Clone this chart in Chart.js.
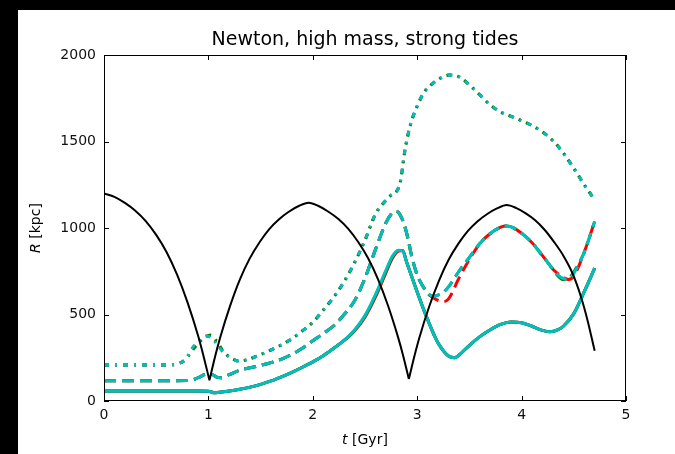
<!DOCTYPE html>
<html>
<head>
<meta charset="utf-8">
<script src="https://cdn.jsdelivr.net/npm/chart.js@4"></script>
<style>
  html, body { margin: 0; padding: 0; background: #000; }
  #wrap { position: absolute; left: 18px; top: 10px; width: 657px; height: 444px; background: #fff; }
</style>
</head>
<body>
<div id="wrap"><canvas id="chart"></canvas></div>
<script>
// tick labels
const xTicks = [0, 1, 2, 3, 4, 5];
const yTicks = [0, 500, 1000, 1500, 2000];

// black orbit (solid)
const tBlack = [0, 0.1, 0.2, 0.3, 0.4, 0.5, 0.6, 0.7, 0.8, 0.9, 0.95, 1.01, 1.066, 1.113, 1.207, 1.3, 1.395, 1.49, 1.583, 1.677, 1.77, 1.865, 1.96, 2.055, 2.15, 2.245, 2.34, 2.435, 2.53, 2.625, 2.72, 2.815, 2.863, 2.92, 2.976, 3.022, 3.115, 3.208, 3.3, 3.393, 3.486, 3.579, 3.671, 3.764, 3.857, 3.95, 4.04, 4.13, 4.22, 4.31, 4.4, 4.49, 4.57, 4.63, 4.7];
const rBlack = [1200, 1180, 1145, 1100, 1040, 960, 860, 730, 570, 380, 268, 120, 262, 367, 548, 700, 823, 918, 994, 1051, 1094, 1127, 1146, 1127, 1094, 1052, 995, 919, 825, 703, 552, 372, 268, 127, 266, 369, 546, 695, 815, 908, 983, 1039, 1081, 1113, 1133, 1115, 1085, 1045, 990, 920, 840, 735, 600, 470, 290];

// solid lines
const tSolid = [0, 0.3, 0.6, 0.9, 1.0, 1.06, 1.1, 1.2, 1.3, 1.4, 1.5, 1.6, 1.7, 1.8, 1.9, 2.0, 2.1, 2.2, 2.3, 2.4, 2.5, 2.6, 2.7, 2.76, 2.82, 2.86, 2.9, 3.0, 3.1, 3.2, 3.3, 3.36, 3.4, 3.5, 3.6, 3.7, 3.8, 3.9, 4.0, 4.1, 4.2, 4.27, 4.35, 4.4, 4.5, 4.6, 4.7];
const solidRed   = [58, 58, 58, 58, 57, 47, 50, 58, 68, 80, 96, 116, 140, 166, 195, 226, 262, 305, 350, 405, 485, 600, 740, 822, 866, 870, 800, 630, 470, 335, 260, 250, 265, 322, 372, 412, 443, 457, 452, 432, 408, 400, 412, 432, 505, 632, 768];
const solidGreen = [58, 58, 58, 58, 57, 47, 50, 58, 68, 80, 96, 116, 140, 166, 195, 226, 262, 305, 350, 408, 490, 608, 748, 828, 870, 870, 800, 630, 470, 335, 260, 250, 265, 322, 372, 412, 443, 457, 452, 432, 408, 400, 412, 432, 505, 632, 768];
const solidCyan  = [58, 58, 58, 58, 57, 47, 50, 58, 68, 80, 96, 116, 140, 166, 195, 226, 262, 305, 350, 410, 495, 615, 755, 835, 872, 868, 800, 630, 470, 335, 260, 250, 265, 322, 372, 412, 443, 457, 452, 432, 408, 400, 412, 432, 505, 632, 768];

// dashed lines
const tDash = [0, 0.4, 0.8, 0.86, 0.92, 0.98, 1.03, 1.08, 1.12, 1.2, 1.3, 1.4, 1.5, 1.6, 1.7, 1.8, 1.9, 2.0, 2.1, 2.2, 2.3, 2.4, 2.5, 2.6, 2.7, 2.75, 2.8, 2.85, 2.9, 2.95, 3.0, 3.05, 3.1, 3.15, 3.2, 3.25, 3.3, 3.4, 3.5, 3.6, 3.7, 3.8, 3.85, 3.9, 4.0, 4.1, 4.2, 4.3, 4.35, 4.4, 4.45, 4.5, 4.6, 4.7];
const dashRed   = [117, 117, 118, 124, 140, 156, 154, 138, 134, 152, 178, 192, 206, 222, 242, 270, 305, 348, 390, 435, 500, 580, 710, 875, 1030, 1080, 1097, 1060, 968, 830, 728, 668, 622, 598, 582, 574, 590, 710, 818, 910, 968, 1005, 1012, 1006, 970, 915, 840, 762, 735, 714, 702, 722, 860, 1038];
const dashGreen = [117, 117, 118, 124, 140, 156, 154, 138, 134, 152, 178, 192, 206, 222, 242, 270, 305, 348, 390, 435, 500, 580, 710, 875, 1030, 1080, 1097, 1060, 968, 830, 728, 668, 625, 605, 612, 628, 660, 750, 830, 910, 968, 1005, 1012, 1006, 970, 915, 840, 762, 722, 702, 708, 745, 860, 1038];
const dashCyan  = [117, 117, 118, 124, 140, 156, 154, 138, 134, 152, 178, 192, 206, 222, 242, 270, 305, 348, 390, 435, 500, 580, 710, 875, 1030, 1080, 1097, 1060, 968, 830, 728, 668, 625, 605, 612, 628, 660, 750, 830, 910, 968, 1005, 1012, 1006, 970, 915, 840, 762, 728, 708, 704, 738, 860, 1038];

// dash-dot lines
const tDot = [0, 0.3, 0.6, 0.7, 0.78, 0.85, 0.92, 0.98, 1.02, 1.08, 1.14, 1.2, 1.3, 1.4, 1.5, 1.6, 1.7, 1.8, 1.9, 2.0, 2.1, 2.2, 2.3, 2.4, 2.5, 2.6, 2.7, 2.75, 2.8, 2.84, 2.88, 2.93, 3.0, 3.07, 3.15, 3.25, 3.31, 3.41, 3.5, 3.6, 3.7, 3.8, 3.9, 4.0, 4.1, 4.2, 4.3, 4.4, 4.5, 4.6, 4.7];
const dotRed   = [208, 208, 208, 214, 240, 306, 352, 376, 372, 334, 284, 255, 230, 245, 268, 295, 325, 360, 405, 455, 525, 600, 690, 800, 930, 1080, 1160, 1190, 1210, 1270, 1440, 1585, 1705, 1788, 1836, 1875, 1884, 1871, 1827, 1769, 1711, 1670, 1645, 1620, 1592, 1555, 1505, 1433, 1345, 1250, 1162];
const dotGreen = [208, 208, 208, 214, 240, 295, 345, 372, 381, 345, 290, 255, 230, 245, 268, 295, 325, 360, 405, 455, 525, 600, 690, 800, 930, 1080, 1160, 1190, 1210, 1270, 1440, 1585, 1705, 1788, 1836, 1875, 1884, 1871, 1827, 1769, 1711, 1670, 1645, 1620, 1592, 1555, 1505, 1433, 1345, 1250, 1162];
const dotCyan  = [208, 208, 208, 214, 240, 310, 355, 374, 368, 330, 282, 255, 230, 245, 268, 295, 325, 360, 405, 455, 525, 600, 690, 800, 930, 1080, 1160, 1190, 1210, 1270, 1440, 1585, 1705, 1788, 1836, 1875, 1884, 1871, 1827, 1769, 1711, 1670, 1645, 1620, 1592, 1555, 1505, 1433, 1345, 1250, 1162];

const RED = "#ff0000", GREEN = "#008000", CYAN = "#00bfbf";
const FONT = "DejaVu Sans";

function toPoints(ts, rs) {
    return ts.map((t, i) => ({ x: t, y: rs[i] }));
}

// break the line at each pericentre so the cusp stays sharp
function splitAtMinima(ts, rs) {
    const out = [];
    ts.forEach((t, i) => {
        out.push({ x: t, y: rs[i] });
        if (i > 0 && i < ts.length - 1 && rs[i] < rs[i - 1] && rs[i] < rs[i + 1]) {
            out.push({ x: t, y: null });
            out.push({ x: t, y: rs[i] });
        }
    });
    return out;
}

function line(data, color, width, dash) {
    return {
        data: data,
        borderColor: color,
        borderWidth: width,
        borderDash: dash || [],
        borderCapStyle: "butt",
        pointRadius: 0,
        fill: false,
        cubicInterpolationMode: "monotone"
    };
}

const DASH = [12, 6];
const DASHDOT = [5, 6, 2, 6];

const datasets = [
    line(splitAtMinima(tBlack, rBlack), "#000", 2),
    line(toPoints(tSolid, solidCyan), CYAN, 3),
    line(toPoints(tSolid, solidGreen), GREEN, 3),
    line(toPoints(tSolid, solidRed), RED, 3),
    line(toPoints(tDash, dashCyan), CYAN, 3, DASH),
    line(toPoints(tDash, dashGreen), GREEN, 3, DASH),
    line(toPoints(tDash, dashRed), RED, 3, DASH),
    line(toPoints(tDot, dotCyan), CYAN, 3, DASHDOT),
    line(toPoints(tDot, dotGreen), GREEN, 3, DASHDOT),
    line(toPoints(tDot, dotRed), RED, 3, DASHDOT)
];

// frame, inward ticks on all sides, title and axis labels
const framePlugin = {
    id: "frame",
    afterDraw(chart) {
        const { ctx, chartArea: a, scales: { x, y } } = chart;
        ctx.save();
        ctx.strokeStyle = "#000";
        ctx.lineWidth = 1;
        ctx.strokeRect(a.left + 0.5, a.top + 0.5, a.right - a.left - 1, a.bottom - a.top - 1);
        ctx.beginPath();
        xTicks.forEach(v => {
            const px = Math.round(x.getPixelForValue(v)) + 0.5;
            ctx.moveTo(px, a.bottom); ctx.lineTo(px, a.bottom - 5);
            ctx.moveTo(px, a.top); ctx.lineTo(px, a.top + 5);
        });
        yTicks.forEach(v => {
            const py = Math.round(y.getPixelForValue(v)) + 0.5;
            ctx.moveTo(a.left, py); ctx.lineTo(a.left + 5, py);
            ctx.moveTo(a.right, py); ctx.lineTo(a.right - 5, py);
        });
        ctx.stroke();

        ctx.fillStyle = "#000";
        ctx.textBaseline = "middle";
        ctx.textAlign = "center";
        ctx.font = "19px '" + FONT + "'";
        ctx.fillText("Newton, high mass, strong tides", (a.left + a.right) / 2, 30);

        // axis labels: italic symbol followed by the unit
        function label(sym, unit, cx, cy, rot) {
            ctx.save();
            ctx.translate(cx, cy);
            ctx.rotate(rot);
            ctx.textAlign = "left";
            ctx.font = "italic 14px '" + FONT + "'";
            const w1 = ctx.measureText(sym).width;
            ctx.font = "14px '" + FONT + "'";
            const w2 = ctx.measureText(unit).width;
            const x0 = -(w1 + w2) / 2;
            ctx.font = "italic 14px '" + FONT + "'";
            ctx.fillText(sym, x0, 0);
            ctx.font = "14px '" + FONT + "'";
            ctx.fillText(unit, x0 + w1, 0);
            ctx.restore();
        }
        label("t", " [Gyr]", (a.left + a.right) / 2, 430, 0);
        label("R", " [kpc]", 18, (a.top + a.bottom) / 2, -Math.PI / 2);
        ctx.restore();
    }
};

new Chart(document.getElementById("chart"), {
    type: "line",
    data: { datasets: datasets },
    options: {
        responsive: true,
        maintainAspectRatio: false,
        animation: false,
        layout: { padding: { left: 0, right: 49, top: 45, bottom: 0 } },
        plugins: { legend: { display: false }, tooltip: { enabled: false }, title: { display: false } },
        scales: {
            x: {
                type: "linear", min: 0, max: 5,
                grid: { display: false, drawTicks: false },
                border: { display: false },
                ticks: { stepSize: 1, padding: 6, color: "#111", font: { family: FONT, size: 14 },
                         callback: v => String(v) },
                afterFit(scale) { scale.height = 53; }
            },
            y: {
                type: "linear", min: 0, max: 2000,
                grid: { display: false, drawTicks: false },
                border: { display: false },
                ticks: { stepSize: 500, padding: 8, color: "#111", font: { family: FONT, size: 14 },
                         callback: v => String(v) },
                afterFit(scale) { scale.width = 86; }
            }
        }
    },
    plugins: [framePlugin]
});
</script>
</body>
</html>
